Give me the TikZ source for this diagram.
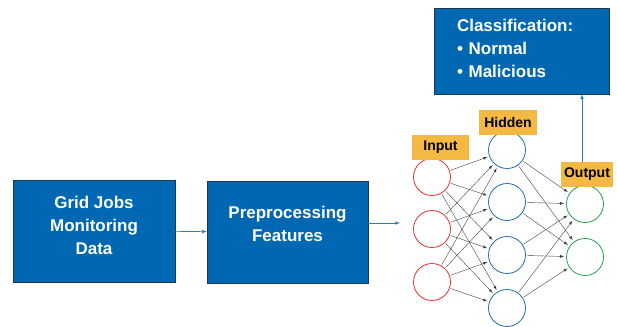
\documentclass[tikz,border=0pt]{standalone}
\usepackage{fontspec}
\setmainfont{Liberation Sans}
\usepackage{xcolor}
\usetikzlibrary{positioning}
\usetikzlibrary{arrows}
\definecolor{boxblue}{HTML}{0068B3}
\definecolor{boxedge}{HTML}{1F3550}
\definecolor{tagorange}{HTML}{F4B942}
\definecolor{inred}{HTML}{E8322E}
\definecolor{hidblue}{HTML}{1F6DB5}
\definecolor{outgreen}{HTML}{22A24A}
\definecolor{flowblue}{HTML}{2E7BC0}

\begin{document}
\begin{tikzpicture}[x=1pt,y=-1pt,
            stage/.style={draw=boxedge,fill=boxblue,rectangle,text=white,align=center,
            font=\bfseries\fontsize{17}{23}\selectfont,inner sep=0pt,text depth=12pt},
            tag/.style={fill=tagorange,rectangle,align=center,minimum height=25pt,
            font=\bfseries\fontsize{14}{16}\selectfont,inner sep=0pt},
            neuron/.style={circle,draw,thick,fill=white,minimum size=37pt,inner sep=0pt},
            flow/.style={flowblue,->,>=latex,semithick},
            link/.style={black!75,->,>=latex,thin,shorten >=2pt,shorten <=1pt}]
            \useasboundingbox (0,0) rectangle (617,326);
            % blocks
            \node[stage,minimum width=162pt,minimum height=102pt] (grid) at (94,231)
                {Grid Jobs\\Monitoring\\Data};
            \node[stage,minimum width=161pt,minimum height=102pt,text depth=16pt] (prep)
                at (287.5,232) {Preprocessing\\Features};
            \node[stage,minimum width=175pt,minimum height=86pt,align=left,text width=175pt,
                text depth=52pt] (cls) at (521.5,51) {\hspace*{23pt}Classification:\\
                \hspace*{23pt}\textbullet{} Normal\\ \hspace*{23pt}\textbullet{} Malicious};
            % network
            \foreach \i/\y in {1/177,2/229,3/282}
                \node[neuron,draw=inred] (in\i) at (432,\y) {};
            \foreach \i/\y in {1/150,2/202,3/255,4/308}
                \node[neuron,draw=hidblue] (hid\i) at (507,\y) {};
            \foreach \i/\y in {1/204,2/257}
                \node[neuron,draw=outgreen] (out\i) at (585,\y) {};
            \node[tag,minimum width=57pt] (tagin) at (440.5,147.5) {Input};
            \node[tag,minimum width=58pt] (taghid) at (508,122.5) {Hidden};
            \node[tag,minimum width=52pt] (tagout) at (587,174.5) {Output};

            \foreach \i in {1,2,3}
                \foreach \j in {1,2,3,4}
                    \draw[link] (in\i) -- (hid\j);
            \foreach \i in {1,2,3,4}
                \foreach \j in {1,2}
                    \draw[link] (hid\i) -- (out\j);

            \draw[flow] (grid) -- (prep);
            \coordinate (netin) at (400,223);
            \draw[flow] (prep.east |- netin) -- (netin);
            \coordinate (upfoot) at (582,162);
            \draw[flow] (upfoot) -- (upfoot |- cls.south);
        \end{tikzpicture}
\end{document}
